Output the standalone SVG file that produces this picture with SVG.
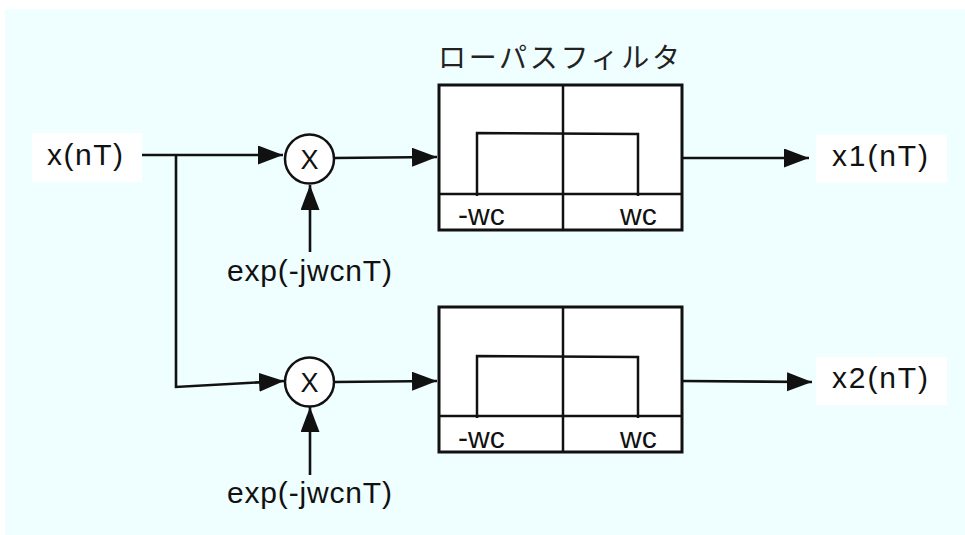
<svg xmlns="http://www.w3.org/2000/svg" width="965" height="535" viewBox="0 0 965 535">
  <style>
    .lbl { font-family: "Liberation Sans", Arial, sans-serif; font-size: 30px; fill: #111; }
    .mx { font-family: "Liberation Sans", Arial, sans-serif; font-size: 27px; fill: #111; }
    .ax { font-family: "Liberation Sans", Arial, sans-serif; font-size: 30px; fill: #111; }
    .ttl { font-family: "Noto Sans CJK JP", "Liberation Sans", sans-serif; font-size: 28px; fill: #222; }
    .box { fill: #ffffff; }
    .frame { fill: #ffffff; stroke: #111; stroke-width: 3; }
    .inner { fill: none; stroke: #111; stroke-width: 2.5; }
    .wire { fill: none; stroke: #111; stroke-width: 2.6; }
    .mix { fill: #ffffff; stroke: #111; stroke-width: 2.5; }
  </style>
  <defs>
    <marker id="arrow" markerUnits="userSpaceOnUse" markerWidth="26" markerHeight="20" refX="25" refY="9.5" orient="auto">
      <path d="M0,0 L25,9.5 L0,19 z" fill="#111"/>
    </marker>
  </defs>

  <!-- backdrop -->
  <rect x="5" y="9" width="960" height="526" fill="#effefe"/>

  <!-- connectors -->
  <g id="connectors">
    <line class="wire" x1="142" y1="155" x2="283" y2="155" marker-end="url(#arrow)"/>
    <polyline class="wire" points="176,155 176,387 284,381" marker-end="url(#arrow)"/>
    <line class="wire" x1="310" y1="252" x2="310" y2="185" marker-end="url(#arrow)"/>
    <line class="wire" x1="310" y1="475" x2="310" y2="407" marker-end="url(#arrow)"/>
    <line class="wire" x1="334" y1="158" x2="437" y2="157" marker-end="url(#arrow)"/>
    <line class="wire" x1="334" y1="382" x2="437" y2="381" marker-end="url(#arrow)"/>
    <line class="wire" x1="682" y1="158" x2="809" y2="158" marker-end="url(#arrow)"/>
    <line class="wire" x1="682" y1="381" x2="812" y2="382" marker-end="url(#arrow)"/>
  </g>

  <!-- input -->
  <g id="input">
    <rect class="box" x="32" y="133" width="110" height="49"/>
    <text class="lbl" x="47" y="165" textLength="76" lengthAdjust="spacing">x(nT)</text>
  </g>

  <!-- mixers -->
  <g id="mixer1">
    <circle class="mix" cx="309.5" cy="159" r="24.5"/>
    <text class="mx" x="309.5" y="169" text-anchor="middle">X</text>
  </g>
  <g id="mixer2">
    <circle class="mix" cx="309.5" cy="382" r="24.5"/>
    <text class="mx" x="309.5" y="392" text-anchor="middle">X</text>
  </g>

  <!-- local oscillator labels -->
  <g id="osc1">
    <text class="lbl" x="227" y="281" textLength="165" lengthAdjust="spacing">exp(-jwcnT)</text>
  </g>
  <g id="osc2">
    <text class="lbl" x="227" y="503" textLength="165" lengthAdjust="spacing">exp(-jwcnT)</text>
  </g>

  <!-- low-pass filters -->
  <g id="title">
    <text class="ttl" x="438" y="68" textLength="242" lengthAdjust="spacing">ローパスフィルタ</text>
  </g>
  <g id="filter1">
    <rect class="frame" x="439" y="85" width="243" height="145"/>
    <line class="inner" x1="563" y1="85" x2="563" y2="230"/>
    <line class="inner" x1="439" y1="194" x2="682" y2="194"/>
    <polyline class="inner" points="477,196 477,133 638,134 638,196"/>
    <text class="ax" x="458" y="225">-wc</text>
    <text class="ax" x="620" y="225">wc</text>
  </g>
  <g id="filter2">
    <rect class="frame" x="439" y="307" width="243" height="145"/>
    <line class="inner" x1="563" y1="307" x2="563" y2="452"/>
    <line class="inner" x1="439" y1="416" x2="682" y2="416"/>
    <polyline class="inner" points="477,418 477,356 638,357 638,418"/>
    <text class="ax" x="458" y="448">-wc</text>
    <text class="ax" x="620" y="448">wc</text>
  </g>

  <!-- outputs -->
  <g id="output1">
    <rect class="box" x="816" y="135" width="131" height="48"/>
    <text class="lbl" x="832" y="166" textLength="96" lengthAdjust="spacing">x1(nT)</text>
  </g>
  <g id="output2">
    <rect class="box" x="816" y="357" width="131" height="48"/>
    <text class="lbl" x="832" y="388" textLength="96" lengthAdjust="spacing">x2(nT)</text>
  </g>
</svg>
